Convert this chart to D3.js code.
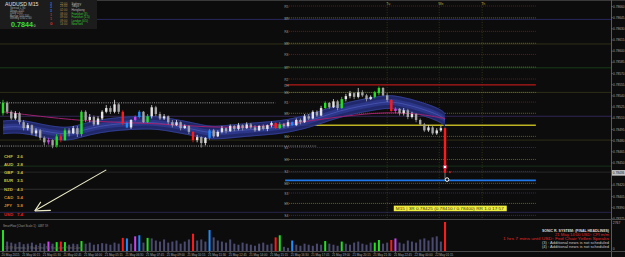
<!DOCTYPE html>
<html><head><meta charset="utf-8">
<script src="https://cdn.jsdelivr.net/npm/d3@7"></script>
<style>
html,body{margin:0;padding:0;background:#0c0c0c;overflow:hidden}
svg{display:block}
text{font-family:"Liberation Sans",Arial,sans-serif}
</style></head><body>
<svg id="c" width="625" height="257"></svg>
<script>
// ---------- DATA (AUDUSD M15) ----------
const opens = [0.78516,0.78530,0.78518,0.78509,0.78516,0.78504,0.78496,0.78500,0.78489,0.78493,0.78483,0.78477,0.78480,0.78473,0.78485,0.78480,0.78493,0.78489,0.78496,0.78488,0.78518,0.78507,0.78511,0.78501,0.78509,0.78518,0.78523,0.78518,0.78528,0.78518,0.78503,0.78497,0.78507,0.78511,0.78518,0.78504,0.78512,0.78524,0.78515,0.78509,0.78512,0.78504,0.78500,0.78504,0.78496,0.78499,0.78491,0.78480,0.78484,0.78476,0.78483,0.78493,0.78485,0.78491,0.78496,0.78492,0.78499,0.78495,0.78500,0.78496,0.78501,0.78497,0.78493,0.78499,0.78495,0.78500,0.78503,0.78496,0.78501,0.78499,0.78504,0.78500,0.78507,0.78504,0.78512,0.78509,0.78518,0.78513,0.78523,0.78530,0.78524,0.78532,0.78523,0.78535,0.78539,0.78543,0.78538,0.78544,0.78540,0.78535,0.78538,0.78543,0.78550,0.78540,0.78534,0.78519,0.78522,0.78516,0.78520,0.78511,0.78515,0.78507,0.78501,0.78493,0.78497,0.78489,0.78493,0.78496];
const highs = [0.78534,0.78532,0.78520,0.78519,0.78518,0.78507,0.78503,0.78501,0.78496,0.78495,0.78485,0.78483,0.78481,0.78488,0.78488,0.78496,0.78496,0.78499,0.78499,0.78520,0.78520,0.78515,0.78513,0.78512,0.78520,0.78527,0.78526,0.78534,0.78530,0.78520,0.78505,0.78508,0.78513,0.78520,0.78519,0.78515,0.78527,0.78526,0.78518,0.78515,0.78513,0.78507,0.78507,0.78505,0.78501,0.78500,0.78492,0.78487,0.78485,0.78484,0.78495,0.78495,0.78493,0.78499,0.78497,0.78501,0.78500,0.78503,0.78501,0.78504,0.78503,0.78500,0.78500,0.78501,0.78501,0.78505,0.78504,0.78504,0.78503,0.78507,0.78505,0.78509,0.78509,0.78515,0.78515,0.78520,0.78520,0.78526,0.78532,0.78531,0.78535,0.78534,0.78538,0.78542,0.78546,0.78544,0.78550,0.78547,0.78542,0.78540,0.78546,0.78552,0.78551,0.78543,0.78535,0.78524,0.78523,0.78523,0.78522,0.78518,0.78516,0.78509,0.78503,0.78500,0.78499,0.78496,0.78499,0.78497];
const lows = [0.78513,0.78515,0.78507,0.78507,0.78501,0.78493,0.78493,0.78487,0.78485,0.78480,0.78473,0.78474,0.78469,0.78470,0.78477,0.78479,0.78485,0.78488,0.78484,0.78485,0.78504,0.78504,0.78499,0.78500,0.78507,0.78516,0.78515,0.78516,0.78515,0.78500,0.78496,0.78495,0.78505,0.78509,0.78503,0.78503,0.78509,0.78512,0.78507,0.78507,0.78501,0.78497,0.78499,0.78493,0.78495,0.78488,0.78477,0.78477,0.78470,0.78473,0.78480,0.78483,0.78484,0.78489,0.78489,0.78491,0.78492,0.78493,0.78493,0.78495,0.78495,0.78491,0.78492,0.78493,0.78492,0.78497,0.78495,0.78495,0.78496,0.78497,0.78499,0.78499,0.78501,0.78503,0.78507,0.78508,0.78511,0.78512,0.78522,0.78522,0.78523,0.78520,0.78522,0.78532,0.78536,0.78535,0.78536,0.78538,0.78532,0.78534,0.78536,0.78540,0.78539,0.78531,0.78518,0.78516,0.78513,0.78513,0.78508,0.78509,0.78504,0.78499,0.78491,0.78491,0.78487,0.78487,0.78491,0.78427];
const closes = [0.78530,0.78518,0.78509,0.78516,0.78504,0.78496,0.78500,0.78489,0.78493,0.78483,0.78477,0.78480,0.78473,0.78485,0.78480,0.78493,0.78489,0.78496,0.78488,0.78518,0.78507,0.78511,0.78501,0.78509,0.78518,0.78523,0.78518,0.78528,0.78518,0.78503,0.78497,0.78507,0.78511,0.78518,0.78504,0.78512,0.78524,0.78515,0.78509,0.78512,0.78504,0.78500,0.78504,0.78496,0.78499,0.78491,0.78480,0.78484,0.78476,0.78483,0.78493,0.78485,0.78491,0.78496,0.78492,0.78499,0.78495,0.78500,0.78496,0.78501,0.78497,0.78493,0.78499,0.78495,0.78500,0.78503,0.78496,0.78501,0.78499,0.78504,0.78500,0.78507,0.78504,0.78512,0.78509,0.78518,0.78513,0.78523,0.78530,0.78524,0.78532,0.78523,0.78535,0.78539,0.78543,0.78538,0.78544,0.78540,0.78535,0.78538,0.78544,0.78550,0.78540,0.78534,0.78519,0.78522,0.78516,0.78520,0.78511,0.78515,0.78507,0.78501,0.78493,0.78497,0.78489,0.78493,0.78496,0.78436];
const volumes = [2000,900,800,700,850,650,700,800,600,750,700,900,700,850,900,850,600,700,650,950,700,800,600,650,750,700,600,800,700,1250,1200,700,1400,1500,800,1250,1200,1000,900,1100,800,900,1000,700,900,1100,1650,1000,1100,900,2000,1300,1000,900,800,1100,700,600,800,700,600,500,700,800,600,700,1300,1500,400,300,1000,600,500,700,600,500,700,600,950,700,600,500,900,700,600,800,900,700,600,800,800,1050,700,800,1050,1200,800,700,1000,900,800,1100,1200,1000,1300,1400,900,2767];
// signal colour per bar (g=green r=red b=blue m=magenta)
const signalBars = [0,11,13,14,15,19,29,30,32,33,35,46,50,66,67,70,78,82,90,91,94,95,107];
const signalKinds = ["g","m","g","r","g","g","r","b","m","b","g","r","b","r","g","b","g","g","g","g","r","m","r"];

// moving-average channel (bar index, price) and slow MA
const bandIdx = [0,4,9,14,17,21,26,31,36,40,44,48,51,57,65,69,74,79,84,89,93,96,101,106,107];
const bandMid = [0.78497,0.78499,0.78493,0.78488,0.78489,0.78496,0.78501,0.78503,0.78504,0.78501,0.78497,0.78492,0.78489,0.78493,0.78496,0.78499,0.78505,0.78515,0.78523,0.78528,0.78532,0.78530,0.78523,0.78513,0.78507];
const slowIdx = [0,10,23,36,49,62,72,82,93,101,107];
const slowMA  = [0.78518,0.78511,0.78504,0.78503,0.78497,0.78497,0.78504,0.78512,0.78518,0.78515,0.78509];

// pivot levels
const levelNames  = ["R5","M9","R4","M8","R3","M7","R2","DH","M6","R1","M5","PP","M4","S1","M3","S2","","M2","S3","M1","S4"];
const levelPrices = [0.78660,0.78644,0.78626,0.78610,0.78595,0.78578,0.78562,0.78554,0.78544,0.78531,0.78516,0.78500,0.78485,0.78470,0.78454,0.78438,0.78426,0.78422,0.78409,0.78395,0.78379];
const levelKinds  = ["r","y","r","y","r","y","r","rs","y","r","y","ys","y","p","y","p","bs","y","p","y","p"];
const levelFrom = 68.3, levelTo = 129;
// full-width weekly lines
const wideLevels = [0.78642,0.78609,0.78577,0.78544,0.78512,0.78480,0.78445,0.78437,0.78414,0.78383];
const wideColors = ["#2a2a66","#34341a","#1a421a","#30301a","#35285f","#34341a","#1a361a","#2a2a2a","#323232","#27274f"];
// previous-day high / low (dotted white)
const prevHL = [0.78530,0.78472];
const prevHLto = [65.9,76];
// session markers
const sessIdx = [93,105.6,116];
const sessNames = ["Tu","We","Th"];

// price axis ticks
const priceTicks = [0.78660,0.78645,0.78630,0.78615,0.78600,0.78585,0.78570,0.78555,0.78540,0.78525,0.78510,0.78495,0.78480,0.78465,0.78450,0.78420,0.78405,0.78390,0.78375];
const timeIdx = [0,5,10,15,20,25,30,35,40,45,50,55,60,65,70,75,80,85,90,95,100,105];
const timeLabels = ["20 May 2015","21 May 00:15","21 May 01:30","21 May 02:45","21 May 04:00","21 May 05:15","21 May 06:30","21 May 07:45","21 May 09:00","21 May 10:15","21 May 11:30","21 May 12:45","21 May 14:00","21 May 15:15","21 May 16:30","21 May 17:45","21 May 19:00","21 May 20:15","21 May 21:30","21 May 22:45","22 May 00:00","22 May 01:15"];

// currency strength
const ccy = ["CHF","AUD","GBP","EUR","NZD","CAD","JPY","USD"];
const ccyVal = [2.6,2.8,3.4,3.5,4.3,5.4,5.8,7.4];

// session panel
const sessTimes = ["22:00","23:00","02:00","08:00","09:00","09:00","14:00"];
const sessCity = ["Sydney","Tokyo","Hongkong","Frankfurt (3)","Frankfurt (1.5)","London (0.5)","NewYork"];

// markers on the last bar
const markIdx = [107,107.5,108.2];
const markPrice = [0.78444,0.78427,0.78437];
const markKind = ["red","white","dot"];
const arrowFrom = [25,0.78440], arrowTo = [7.7,0.78385];

const news = ["SONIC R. SYSTEM: (FINAL HEADLINES)","21 May 14:00 USD: CPI m/m","1 hrs 7 mins until USD: Fed Chair Yellen Speaks","(3) : Additional news is not scheduled","(4) : Additional news is not scheduled"];

// ---------- DRAW ----------
const svg = d3.select("#c");
const W = 625, H = 257, axisX = 611;
const x = d3.scaleLinear().domain([0,107]).range([3,445]);
const y = d3.scaleLinear().domain([0.78375,0.78660]).range([218.3,6]);
const vy = d3.scaleLinear().domain([0,2767]).range([251,222]);

svg.append("rect").attr("width",W).attr("height",H).attr("fill","#0c0c0c");
const main = svg.append("g");

main.append("line").attr("x1",0).attr("x2",W).attr("y1",0.5).attr("y2",0.5).attr("stroke","#3a3a3a");

wideLevels.forEach((p,k)=>{
  main.append("line").attr("x1",0).attr("x2",axisX).attr("y1",y(p)).attr("y2",y(p))
    .attr("stroke",wideColors[k]).attr("stroke-width",0.9);
});

sessIdx.forEach((b,k)=>{
  main.append("line").attr("x1",x(b)).attr("x2",x(b)).attr("y1",2).attr("y2",219)
    .attr("stroke","#44441f").attr("stroke-width",0.7).attr("stroke-dasharray","1,1.5");
  main.append("text").attr("x",x(b)-1).attr("y",5).attr("font-size",3.6).attr("fill","#b5a845").text(sessNames[k]);
});

const styles = {
  r:{c:"#8a1c1c",w:0.8,d:"1,1"}, y:{c:"#7c7c22",w:0.8,d:"1,1"}, p:{c:"#38387a",w:0.8,d:"1,1"},
  rs:{c:"#b41818",w:1.2,d:null}, ys:{c:"#beb422",w:1.6,d:null}, bs:{c:"#2078ea",w:1.8,d:null}
};
levelPrices.forEach((p,k)=>{
  const s = styles[levelKinds[k]];
  const ln = main.append("line").attr("x1",x(levelFrom)).attr("x2",x(levelTo)).attr("y1",y(p)).attr("y2",y(p))
    .attr("stroke",s.c).attr("stroke-width",s.w);
  if(s.d) ln.attr("stroke-dasharray",s.d);
  if(levelNames[k]) main.append("text").attr("x",x(levelFrom)-1).attr("y",y(p)+1.6)
    .attr("font-size",3.4).attr("fill","#8e8e8e").text(levelNames[k]);
});

prevHL.forEach((p,k)=>{
  main.append("line").attr("x1",0).attr("x2",x(prevHLto[k])).attr("y1",y(p)).attr("y2",y(p))
    .attr("stroke","#bcbcbc").attr("stroke-width",0.8).attr("stroke-dasharray","1,1.2");
});

const band = bandIdx.map((b,k)=>({i:b,v:bandMid[k]}));
main.append("path").datum(band).attr("fill","#222a70").attr("opacity",0.95)
  .attr("d",d3.area().x(d=>x(d.i)).y0(d=>y(d.v-0.000092)).y1(d=>y(d.v+0.000092)).curve(d3.curveBasis));
main.append("path").datum(band).attr("fill","#2c378a")
  .attr("d",d3.area().x(d=>x(d.i)).y0(d=>y(d.v-0.00004)).y1(d=>y(d.v+0.00004)).curve(d3.curveBasis));
[-0.000085,0,0.000085].forEach(off=>{
  main.append("path").datum(band).attr("fill","none").attr("stroke",off===0?"#5563c0":"#3b48a0").attr("stroke-width",0.6)
    .attr("d",d3.line().x(d=>x(d.i)).y(d=>y(d.v+off)).curve(d3.curveBasis));
});
main.append("path").datum(slowIdx.map((b,k)=>({i:b,v:slowMA[k]}))).attr("fill","none")
  .attr("stroke","#a0206e").attr("stroke-width",1)
  .attr("d",d3.line().x(d=>x(d.i)).y(d=>y(d.v)).curve(d3.curveBasis));

const sigColor = {g:"#22e022",r:"#ff1a1a",b:"#1e8cff",m:"#c844f0"};
const sigMap = {}; signalBars.forEach((b,k)=>sigMap[b]=signalKinds[k]);
const bars = opens.map((o,i)=>({i,o,h:highs[i],l:lows[i],c:closes[i],v:volumes[i],s:sigMap[i]}));
const cg = main.append("g");
bars.forEach(d=>{
  const col = d.s ? sigColor[d.s] : (d.c>=d.o ? "#e4e4e4" : "#a4a4a4");
  cg.append("line").attr("x1",x(d.i)).attr("x2",x(d.i)).attr("y1",y(d.h)).attr("y2",y(d.l))
    .attr("stroke",d.i===107?"#8a8a8a":col).attr("stroke-width",0.8);
  const top = y(Math.max(d.o,d.c)), bot = y(Math.min(d.o,d.c));
  cg.append("rect").attr("x",x(d.i)-1.2).attr("width",2.4).attr("y",top).attr("height",Math.max(0.9,bot-top)).attr("fill",col);
});
markIdx.forEach((b,k)=>{
  if(markKind[k]==="red") main.append("circle").attr("cx",x(b)).attr("cy",y(markPrice[k])).attr("r",1.8).attr("fill","#fff").attr("stroke","#e0204a").attr("stroke-width",1);
  else if(markKind[k]==="white") main.append("circle").attr("cx",x(b)).attr("cy",y(markPrice[k])).attr("r",1.8).attr("fill","#111").attr("stroke","#fff").attr("stroke-width",1);
  else main.append("rect").attr("x",x(b)-0.6).attr("y",y(markPrice[k])-1).attr("width",1.2).attr("height",2).attr("fill","#ff2020");
});

const ax0=x(arrowFrom[0]), ay0=y(arrowFrom[1]), ax1=x(arrowTo[0]), ay1=y(arrowTo[1]);
const ag = main.append("g").attr("stroke","#ecebc8").attr("stroke-width",1.1).attr("fill","none");
ag.append("line").attr("x1",ax0).attr("y1",ay0).attr("x2",ax1).attr("y2",ay1);
ag.append("line").attr("x1",ax1).attr("y1",ay1).attr("x2",ax1+6).attr("y2",ay1-9);
ag.append("line").attr("x1",ax1).attr("y1",ay1).attr("x2",ax1+16).attr("y2",ay1-0.5);

const ccyColor = ["#c8c040","#c8c040","#c8c040","#c8c040","#c8b040","#d88a2a","#d88a2a","#e42222"];
ccy.forEach((c,k)=>{
  const yy = 157.5 + k*8.3;
  main.append("text").attr("x",4).attr("y",yy).attr("font-size",4.3).attr("font-weight","bold")
    .attr("font-family","DejaVu Sans Mono").attr("fill",ccyColor[k]).text(c);
  main.append("text").attr("x",17).attr("y",yy).attr("font-size",4.3).attr("font-weight","bold")
    .attr("font-family","DejaVu Sans Mono").attr("fill",ccyColor[k]).text(d3.format(".1f")(ccyVal[k]));
});

main.append("rect").attr("x",x(94.6)).attr("y",y(0.78392)).attr("width",113).attr("height",5.6).attr("fill","#eeee40");
main.append("text").attr("x",x(94.6)+2).attr("y",y(0.78392)+4.3).attr("font-size",3.8).attr("fill","#404010")
  .attr("textLength",108).attr("lengthAdjust","spacingAndGlyphs")
  .text("M15 | 3R 0.78425 (0.78410 / 0.78400) RR 1.0  17:57");

const ip = svg.append("g");
ip.append("rect").attr("x",0).attr("y",0).attr("width",97).attr("height",29).attr("fill","#1c1c1c");
ip.append("text").attr("x",5).attr("y",6.3).attr("font-size",5.2).attr("fill","#e0e0e0").text("AUDUSD  M15");
["Spread   1.90","Swap    -0.05","Daily    0.60","Range   100  100","Weekly  0.60  2.60"].forEach((t,k)=>{
  ip.append("text").attr("x",10).attr("y",9.4+k*2.5).attr("font-size",2.8).attr("fill","#a8a8a8").text(t);
});
ip.append("text").attr("x",11).attr("y",27.2).attr("font-size",7.2).attr("font-weight","bold").attr("fill","#35e035").text(d3.format(".4f")(closes[107]));
ip.append("text").attr("x",33.5).attr("y",27).attr("font-size",3.6).attr("fill","#d8d8d8").text("0");
["3","3","3","1","1","0"].forEach((t,k)=>{
  ip.append("text").attr("x",50).attr("y",[5,8,11.5,16,19.5,24.5][k]).attr("font-size",k===5?4.4:3.4)
    .attr("fill",k<3?"#3a7ad8":"#d83030").attr("font-weight","bold").text(t);
});
sessTimes.forEach((t,k)=>{
  const yy = [4.5,7,10.5,15.2,18.4,21.5,25][k];
  ip.append("text").attr("x",60).attr("y",yy).attr("font-size",2.9).attr("fill","#b08a4a").text(t);
  ip.append("text").attr("x",71.5).attr("y",yy).attr("font-size",2.9).attr("fill",k<3?"#b8b8b8":"#36d036").text(sessCity[k]);
});

// right price axis
svg.append("line").attr("x1",axisX+0.5).attr("x2",axisX+0.5).attr("y1",0).attr("y2",H).attr("stroke","#5a5a5a");
const ya = svg.append("g").attr("transform",`translate(${axisX+0.5},0)`)
  .call(d3.axisRight(y).tickValues(priceTicks).tickSize(1).tickFormat(d3.format(".5f")));
ya.select(".domain").remove();
ya.selectAll("line").attr("stroke","#777");
ya.selectAll("text").attr("font-size",3.4).attr("fill","#a8a8a8").attr("x",1.6)
  .attr("textLength",11.5).attr("lengthAdjust","spacingAndGlyphs").attr("font-family","Liberation Sans");
const cy = y(closes[107]);
svg.append("rect").attr("x",axisX+1).attr("y",cy-2.8).attr("width",13.5).attr("height",5.6).attr("fill","#c4c4c4");
svg.append("text").attr("x",axisX+1.8).attr("y",cy+1.3).attr("font-size",3.4).attr("fill","#111")
  .attr("textLength",11.5).attr("lengthAdjust","spacingAndGlyphs").text(d3.format(".5f")(closes[107]));

// volume window
svg.append("line").attr("x1",0).attr("x2",W).attr("y1",219.5).attr("y2",219.5).attr("stroke","#4a4a4a").attr("stroke-width",1.2);
svg.append("line").attr("x1",0).attr("x2",W).attr("y1",251.5).attr("y2",251.5).attr("stroke","#4a4a4a");
const vg = svg.append("g");
bars.forEach(d=>{
  const col = d.s ? sigColor[d.s] : "#4a4a70";
  vg.append("rect").attr("x",x(d.i)-1).attr("width",2).attr("y",vy(d.v)).attr("height",251-vy(d.v)).attr("fill",col);
});
svg.append("text").attr("x",3).attr("y",226.5).attr("font-size",3.4).attr("fill","#9a9a9a")
  .attr("textLength",45).attr("lengthAdjust","spacingAndGlyphs").text("SmartFlow [Chart Scale 1] : 4487 59");
svg.append("text").attr("x",5).attr("y",249.3).attr("font-size",3.2).attr("fill","#6a6a6a")
  .attr("textLength",77).attr("lengthAdjust","spacingAndGlyphs").text("13:59 Lemons, 3 Way Zero, No Rejection Point Cross");
svg.append("text").attr("x",axisX+1.8).attr("y",223.6).attr("font-size",3.4).attr("fill","#a8a8a8").text("2767");
svg.append("text").attr("x",axisX+1.8).attr("y",249.5).attr("font-size",3.4).attr("fill","#a8a8a8").text("0");
const newsW = [67,54,106,67,67], newsC = ["#dcdcdc","#e02828","#e02828","#c8c8c8","#c8c8c8"], newsY=[231.5,235.6,239.8,244,248];
news.forEach((t,k)=>{
  svg.append("text").attr("x",609-newsW[k]).attr("y",newsY[k]).attr("font-size",3.6).attr("fill",newsC[k])
    .attr("font-weight",k===0?"bold":"normal")
    .attr("textLength",newsW[k]).attr("lengthAdjust","spacingAndGlyphs").text(t);
});

// time axis
timeIdx.forEach((b,k)=>{
  svg.append("line").attr("x1",x(b)).attr("x2",x(b)).attr("y1",251.5).attr("y2",253).attr("stroke","#777").attr("stroke-width",0.6);
  svg.append("text").attr("x",x(b)-1.5).attr("y",256.3).attr("font-size",3.5).attr("fill","#a8a8a8")
    .attr("textLength",18).attr("lengthAdjust","spacingAndGlyphs").text(timeLabels[k]);
});
</script>
</body></html>
